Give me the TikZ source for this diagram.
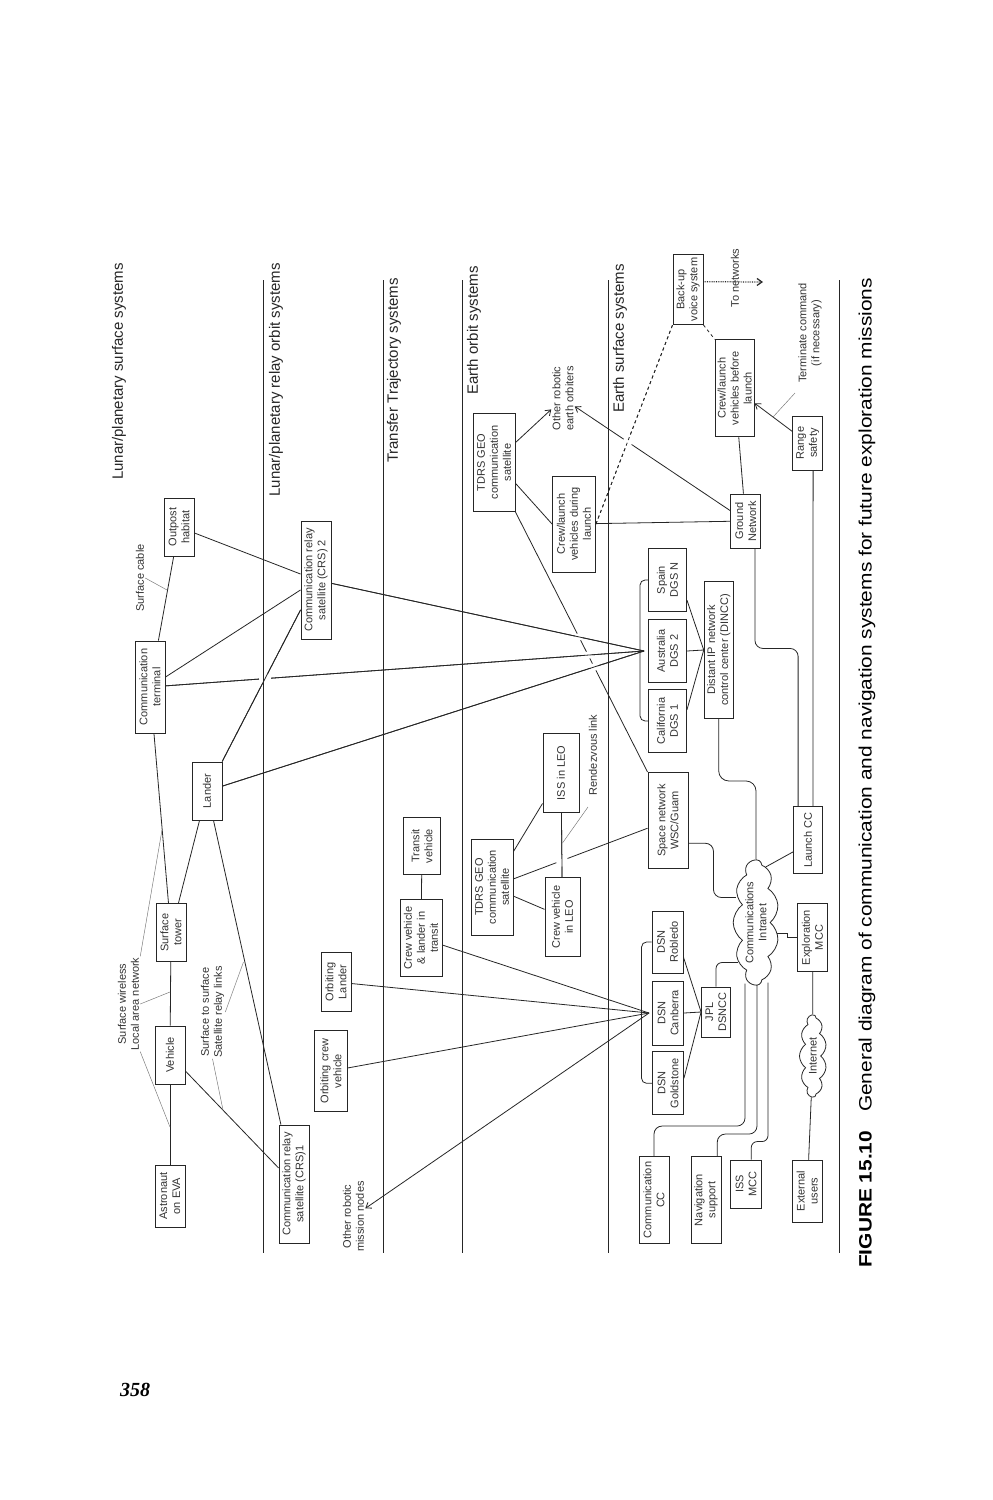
\documentclass[tikz,border=0pt]{standalone}
\usepackage{fontspec}
\setmainfont{Liberation Sans}
\newfontfamily\serifbi{Liberation Serif}
\usepackage{graphicx}
\usetikzlibrary{arrows.meta,shapes.symbols,calc,backgrounds,intersections}
\tikzset{
 box/.style={draw=black!85, line width=0.9pt, fill=white, rotate=90, align=center, inner sep=1pt, font=\fontsize{11}{13}\selectfont, text=black!80},
 lbl/.style={rotate=90, align=center, inner sep=1pt, font=\fontsize{11}{13}\selectfont, text=black!80},
 ttl/.style={rotate=90, anchor=east, inner sep=0pt, font=\fontsize{15}{18}\selectfont, text=black!85},
 cloudy/.style={cloud, cloud puffs=11, cloud puff arc=110, cloud ignores aspect, draw=black!85, line width=0.8pt, fill=white, rotate=90, align=center, inner sep=0pt, font=\fontsize{11}{13}\selectfont, text=black!80},
 link/.style={draw=black!85, line width=0.8pt},
 leader/.style={draw=black!55, line width=0.45pt},
 sepline/.style={draw=black!85, line width=1pt},
 arr/.style={link, -{Straight Barb[length=5pt,width=7pt]}},
 gap/.style={fill=white, draw=none},
}
\begin{document}
\begin{tikzpicture}[x=1pt,y=-1pt]
\path[use as bounding box] (0,0) rectangle (993,1500);

% separators
\foreach \xx in {263,383,462,608,839} \draw[sepline] (\xx,280) -- (\xx,1253);

% section titles
\node[ttl] (t1) at (119,263) {Lunar/planetary surface systems};
\node[ttl] (t2) at (276,263) {Lunar/planetary relay orbit systems};
\node[ttl] (t3) at (394,278) {Transfer Trajectory systems};
\node[ttl] (t4) at (474,266) {Earth orbit systems};
\node[ttl] (t5) at (620,264) {Earth surface systems};

% lunar surface
\node[box, minimum width=62pt, minimum height=30pt] (astro) at (170,1196) {Astronaut\\on EVA};
\node[box, minimum width=58pt, minimum height=30pt] (vehicle) at (170,1055) {Vehicle};
\node[box, minimum width=58pt, minimum height=30pt] (tower) at (171,932.5) {Surface\\tower};
\node[box, minimum width=58pt, minimum height=30pt] (lander) at (207,791) {Lander};
\node[box, minimum width=92pt, minimum height=30pt] (term) at (150,687) {Communication\\terminal};
\node[box, minimum width=58pt, minimum height=30pt] (outpost) at (179,527) {Outpost\\habitat};
\node[lbl] (swlan) at (128.5,1004) {Surface wireless\\Local area network};
\node[lbl] (s2s) at (212.5,1012) {Surface to surface\\Satellite relay links};
\node[lbl] (cable) at (140,578) {Surface cable};

% relay orbit
\node[box, minimum width=118pt, minimum height=30pt] (crs1) at (294,1184) {Communication relay\\satellite (CRS)1};
\node[box, minimum width=118pt, minimum height=30pt] (crs2) at (316,580) {Communication relay\\satellite (CRS) 2};
\node[box, minimum width=81pt, minimum height=33pt] (orbcrew) at (331,1071) {Orbiting crew\\vehicle};
\node[box, minimum width=59pt, minimum height=30pt] (orblander) at (336,982) {Orbiting\\Lander};
\node[lbl] (othermission) at (353.5,1216.5) {Other robotic\\mission nodes};

% transfer
\node[box, minimum width=57pt, minimum height=37pt] (transit) at (422,846) {Transit\\vehicle};
\node[box, minimum width=77pt, minimum height=42pt] (crewlander) at (421,938) {Crew vehicle\\\&{} lander in\\transit};

% earth orbit
\node[box, minimum width=96pt, minimum height=42pt] (tdrsL) at (492,887) {TDRS GEO\\communication\\satellite};
\node[box, minimum width=79pt, minimum height=36pt] (iss) at (561,773) {ISS in LEO};
\node[box, minimum width=79pt, minimum height=35pt] (crewleo) at (562.5,917) {Crew vehicle\\in LEO};
\node[box, minimum width=98pt, minimum height=42pt] (tdrsR) at (494,462.5) {TDRS GEO\\communication\\satellite};
\node[box, minimum width=96pt, minimum height=43pt] (during) at (574,524) {Crew/launch\\vehicles during\\launch};
\node[lbl] (otherearth) at (563,398.5) {Other robotic\\earth orbiters};
\node[lbl] (rendez) at (593,755) {Rendezvous link};

% earth surface
\node[box, minimum width=96pt, minimum height=40pt] (spacenet) at (668,820.5) {Space network\\WSC/Guam};
\node[box, minimum width=63pt, minimum height=38pt] (spain) at (667.5,580) {Spain\\DGS N};
\node[box, minimum width=63pt, minimum height=38pt] (australia) at (667.5,651) {Australia\\DGS 2};
\node[box, minimum width=63pt, minimum height=38pt] (california) at (667.5,721) {California\\DGS 1};
\node[box, minimum width=137pt, minimum height=29pt] (dincc) at (718.7,650) {Distant IP network\\control center (DINCC)};
\node[box, minimum width=54pt, minimum height=30pt] (ground) at (745.7,521) {Ground\\Network};
\node[box, minimum width=97pt, minimum height=39pt] (before) at (734.7,388.3) {Crew/launch\\vehicles before\\launch};
\node[box, minimum width=54pt, minimum height=30pt] (range) at (807.7,443) {Range\\safety};
\node[box, minimum width=70pt, minimum height=30pt] (backup) at (688,289.5) {Back-up\\voice system};
\node[lbl] (tonet) at (735,278) {To networks};
\node[lbl] (terminate) at (810,333) {Terminate command\\(if necessary)};
\node[box, minimum width=67pt, minimum height=29pt] (launchcc) at (808,840) {Launch CC};
\node[cloudy, minimum width=125pt, minimum height=42pt] (intranet) at (756,922.5) {Communications\\Intranet};
\node[box, minimum width=62pt, minimum height=31pt] (robledo) at (667.5,942) {DSN\\Robledo};
\node[box, minimum width=64pt, minimum height=31pt] (canberra) at (668,1013) {DSN\\Canberra};
\node[box, minimum width=63pt, minimum height=31pt] (goldstone) at (668,1083.3) {DSN\\Goldstone};
\node[box, minimum width=50pt, minimum height=29pt] (jpl) at (716,1012) {JPL\\DSNCC};
\node[box, minimum width=68pt, minimum height=30pt] (explmcc) at (812.5,937.5) {Exploration\\MCC};
\node[cloudy, minimum width=82pt, minimum height=27pt] (internet) at (813,1056) {Internet};
\node[box, minimum width=87pt, minimum height=30pt] (commcc) at (654,1200) {Communication\\CC};
\node[box, minimum width=87pt, minimum height=30pt] (navsup) at (706,1200) {Navigation\\support};
\node[box, minimum width=48pt, minimum height=31pt] (issmcc) at (746,1184) {ISS\\MCC};
\node[box, minimum width=62pt, minimum height=30pt] (extusers) at (807.3,1191) {External\\users};

\coordinate (dgshub) at ($(australia.north)+(-4,0)$);
\coordinate (dsnhub) at ($(canberra.north)+(-3,0)$);
\coordinate (tonetend) at (763,282);

\begin{scope}[on background layer]
\fill[white] (0,0) rectangle (993,1500);
% lunar surface links
\draw[link] (astro) -- (vehicle);
\draw[link] (vehicle) -- (tower);
\draw[link] (vehicle) -- (crs1);
\draw[link] (tower) -- (term);
\draw[link] (tower) -- (lander);
\draw[link] (lander) -- (crs1);
\draw[link, name path=landercrs] (lander) -- (crs2);
\draw[link] (term) -- (outpost);
\draw[link] (term) -- (crs2);
\draw[link] (outpost) -- (crs2);
\draw[link, name path=termhub] (term) -- (dgshub);
\draw[link, name path=crshub] (crs2) -- (dgshub);
\draw[link, name path=landerhub] (lander) -- (dgshub);
% DSN hub
\draw[link] (orblander) -- (dsnhub);
\draw[link] (orbcrew) -- (dsnhub);
\draw[link] (crewlander) -- (dsnhub);
\draw[arr] (dsnhub) -- (othermission);
\draw[link] (transit) -- (crewlander);
% earth orbit
\draw[link] (tdrsL) -- (iss);
\draw[link] (tdrsL) -- (crewleo);
\draw[link, name path=isscrew] (iss) -- (crewleo);
\draw[link, name path=tdrsLsp] (tdrsL) -- (spacenet);
\draw[arr] (tdrsR) -- (otherearth);
\draw[link] ($(tdrsR.south)!0.42!(tdrsR.south west)$) -- (during.north);
\draw[link, name path=tdrsRsp] (tdrsR.south west) -- (spacenet.north east);
\draw[link] (during) -- (ground);
\draw[arr, name path=groundoe] (ground) -- (otherearth);
\draw[link, dashed, name path=dash1] (during.south) -- (backup.north west);
\draw[link, dashed] (backup.south west) -- (before.north east);
\draw[link, densely dotted, line width=1.2pt, -{Straight Barb[length=5pt,width=7pt]}] ($(backup.south)!0.22!(backup.south east)$) -- (tonetend);
\draw[link] (before) -- (ground);
\draw[arr] (range) -- (before);
\draw[link] ($(range.west)!0.35!(range.south west)$) -- ($(launchcc.east)!0.33!(launchcc.south east)$);
\draw[link, rounded corners=8pt] ($(ground.west)!0.6!(ground.south west)$) -- ++(0,100) -| ($(launchcc.east)!0.66!(launchcc.north east)$);
% ground stations
\draw[link] ($(spain.south)!0.63!(spain.south west)$) -- (dincc.north);
\draw[link] (australia.south) -- (dincc.north);
\draw[link] ($(california.south)!0.35!(california.south east)$) -- (dincc.north);
\draw[link, rounded corners=5pt] (spain.north) -- ++(-8,0) |- (california.north);
\draw[link, rounded corners=5pt] (robledo.north) -- ++(-10,0) |- (goldstone.north);
\draw[link] ($(robledo.south)!0.48!(robledo.south west)$) -- (jpl.north);
\draw[link] (canberra.south) -- (jpl.north);
\draw[link] ($(goldstone.south)!0.16!(goldstone.south east)$) -- (jpl.north);
% intranet
\draw[link, rounded corners=10pt] (dincc.west) -- ++(0,62) -| (intranet.east);
\draw[link, rounded corners=8pt] ($(spacenet.south)!0.47!(spacenet.south west)$) -- ++(25,0) |- ($(intranet.north)+(3,-25)$);
\draw[link, rounded corners=6pt] (jpl.east) |- ($(intranet.north)+(5,40)$);
\draw[link, rounded corners=8pt] (commcc.east) -- ++(0,-30) -| ($(intranet.west)+(-11,-2)$);
\draw[link, rounded corners=8pt] ($(navsup.east)!0.73!(navsup.south east)$) -- ++(0,-22) -| ($(intranet.west)+(1,-2)$);
\draw[link, rounded corners=6pt] ($(issmcc.east)!0.33!(issmcc.south east)$) -- ++(0,-18) -| ($(intranet.west)+(12,-3)$);
\draw[link] (explmcc.north) -- ++(-10,0) -- ++(0,-4) -- ++(-11,0);
\draw[link] (explmcc) -- (internet);
\draw[link] (internet) -- (extusers);
\draw[link] (intranet.-10) -- ($(launchcc.north)!0.35!(launchcc.north west)$);
% line jumps (gaps where one line passes behind another)
\fill[gap, name intersections={of=tdrsRsp and crshub}] (intersection-1) circle (4pt);
\fill[gap, name intersections={of=tdrsRsp and termhub}] (intersection-1) circle (4pt);
\fill[gap, name intersections={of=tdrsRsp and landerhub}] (intersection-1) circle (4pt);
\draw[link] (term) -- (dgshub);
\draw[link] (crs2) -- (dgshub);
\draw[link] (lander) -- (dgshub);
\fill[gap, name intersections={of=termhub and landercrs}] (intersection-1) circle (6pt);
\draw[link] (lander) -- (crs2);
\fill[gap, name intersections={of=groundoe and dash1}] (intersection-1) circle (5pt);
\draw[link, dashed] (during.south) -- (backup.north west);
\fill[gap, name intersections={of=tdrsLsp and isscrew}] (intersection-1) circle (6pt);
\draw[link] (iss) -- (crewleo);
% leaders
\draw[leader] (swlan.south east) -- (162,830);
\draw[leader] (swlan.south) -- (170,992);
\draw[leader] (swlan.south west) -- (170,1127);
\draw[leader] (s2s.south) -- (243.5,962);
\draw[leader] (s2s.west) -- (223,1110);
\draw[leader] (cable.south) -- (167,590);
\draw[leader] (588,807) -- (562.5,843);
\draw[leader] (795,393) -- (773,417);
\end{scope}

% caption and page number
\node[rotate=90, anchor=west, inner sep=0pt] (caption) at (867,1268) {\resizebox{990pt}{13pt}{\fontsize{20}{24}\selectfont\textbf{FIGURE 15.10}\hspace{0.9em}General diagram of communication and navigation systems for future exploration missions}};
\node[font={\serifbi\fontsize{20}{24}\selectfont\bfseries\itshape}, inner sep=0pt] (pagenum) at (135,1390) {358};
\end{tikzpicture}
\end{document}
